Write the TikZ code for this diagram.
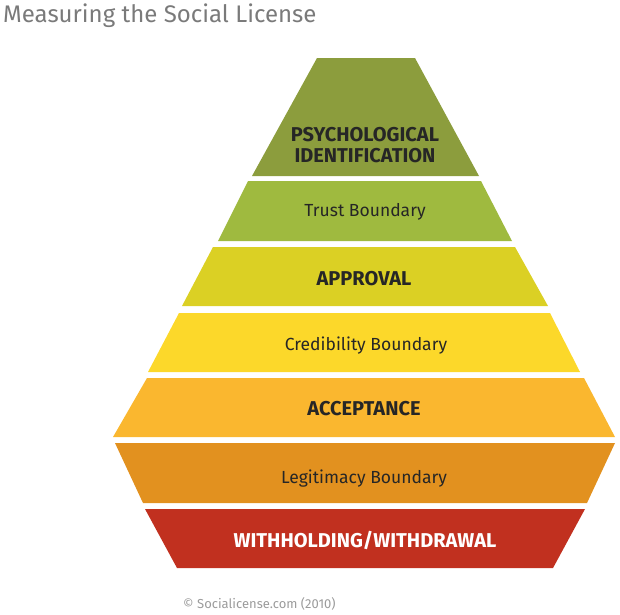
\documentclass[tikz,border=0pt]{standalone}
\usepackage{fontspec}
\setmainfont{Fira Sans}
\definecolor{titlegray}{HTML}{7A7A7A}
\definecolor{labelink}{HTML}{262626}
\definecolor{psychcol}{HTML}{8C9D3D}
\definecolor{trustcol}{HTML}{9FBA3F}
\definecolor{approvalcol}{HTML}{DBD024}
\definecolor{credcol}{HTML}{FCD82A}
\definecolor{acceptcol}{HTML}{FAB72F}
\definecolor{legitcol}{HTML}{E2911F}
\definecolor{withholdcol}{HTML}{C1301F}
\tikzset{
  level/.style={fill=#1, draw=none},
  heading/.style={anchor=base, inner sep=0pt, text=labelink, font=\fontsize{20}{23}\selectfont\bfseries},
  boundary/.style={anchor=base, inner sep=0pt, text=labelink, font=\fontsize{17.5}{20}\selectfont},
}
\begin{document}
\begin{tikzpicture}[x=1pt,y=-1pt]
  \useasboundingbox (0,0) rectangle (620,614);
  % title and credit line
  \node[anchor=base west, inner sep=0pt, text=titlegray, font=\fontsize{24}{27}\selectfont] (title) at (3,22) {Measuring the Social License};
  \node[anchor=base west, inner sep=0pt, text=titlegray!75, font=\fontsize{13}{15}\selectfont] (credit) at (183,608) {\textcopyright\ Socialicense.com (2010)};

  % the seven bands of the pyramid, top to bottom
  \fill[level=psychcol]    (317,58)  -- (415,58)  -- (479,176) -- (252,176) -- cycle;
  \fill[level=trustcol]    (248,181) -- (481,181) -- (512,241) -- (218,241) -- cycle;
  \fill[level=approvalcol] (213,247) -- (515,247) -- (548,306) -- (182,306) -- cycle;
  \fill[level=credcol]     (179,313) -- (550,313) -- (580,372) -- (148,372) -- cycle;
  \fill[level=acceptcol]   (147,378) -- (584,378) -- (615,437) -- (113,437) -- cycle;
  \fill[level=legitcol]    (115,443) -- (615,443) -- (587,503) -- (143,503) -- cycle;
  \fill[level=withholdcol] (145,509) -- (585,509) -- (553,568) -- (177,568) -- cycle;

  % band labels
  \node[heading] (psych1) at (365,141) {PSYCHOLOGICAL};
  \node[heading] (psych2) at (365,162) {IDENTIFICATION};
  \node[boundary] (trust) at (365,216) {Trust Boundary};
  \node[heading] (approval) at (364,285) {APPROVAL};
  \node[boundary] (cred) at (366,350) {Credibility Boundary};
  \node[heading] (accept) at (364,415) {ACCEPTANCE};
  \node[boundary] (legit) at (364,483) {Legitimacy Boundary};
  \node[heading, text=white] (withhold) at (365,547) {WITHHOLDING/WITHDRAWAL};
\end{tikzpicture}
\end{document}
